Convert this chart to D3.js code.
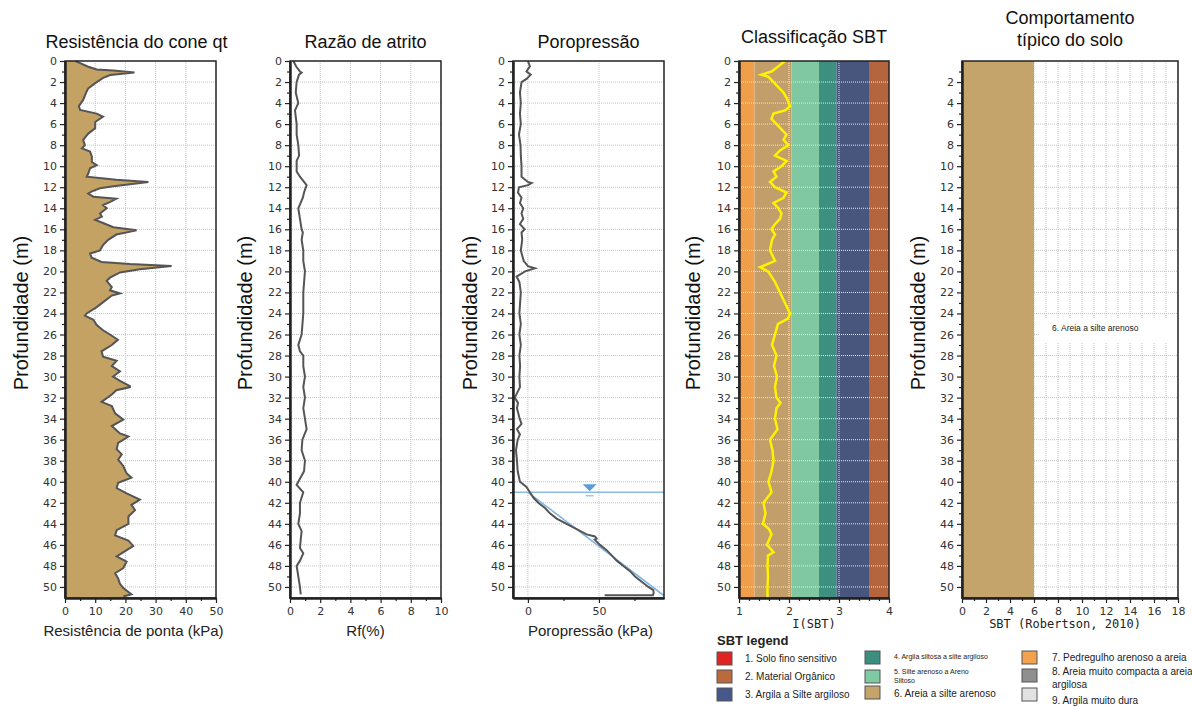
<!DOCTYPE html>
<html>
<head>
<meta charset="utf-8">
<script src="https://cdn.jsdelivr.net/npm/d3@7"></script>
<style>
body { margin: 0; background: #fff; }
text { font-family: "Liberation Sans", Arial, sans-serif; }
.tick text { font-family: "DejaVu Sans", Verdana, sans-serif; font-size: 11px; fill: #333; }
.grid { stroke: #c4c4c4; stroke-width: 1; stroke-dasharray: 1,1; }
</style>
</head>
<body>
<svg id="chart" width="1192" height="708"></svg>
<script>
// cone resistance qt
var qtDepth = [0,0.2,0.55,0.8,0.9,1.1,1.33,1.6,2.1,2.6,3.0,3.7,4.3,4.65,5.0,5.3,5.8,6.4,6.9,7.5,8.0,8.3,8.6,9.1,9.6,9.9,10.2,10.7,11.0,11.3,11.5,11.6,11.9,12.1,12.4,12.6,12.9,13.1,13.4,13.7,14.0,14.5,14.8,15.1,15.4,15.8,16.1,16.5,17.0,17.5,18.0,18.3,18.7,19.1,19.3,19.5,19.8,20.1,20.6,20.9,21.5,21.8,22.1,22.3,22.8,23.4,24.0,24.2,24.6,25.1,25.6,26.0,26.5,27.0,27.6,28.1,28.5,29.0,29.5,30.0,30.4,30.9,31.0,31.3,31.7,32.4,32.8,33.5,34.1,34.7,35.4,35.7,36.3,36.9,37.4,37.9,38.5,39.2,39.6,40.1,40.6,41.1,41.7,42.2,42.7,43.3,44.0,44.6,45.1,45.6,46.1,46.6,47.1,47.6,48.2,48.7,49.2,49.7,50.1,50.7,50.9];
var qtValue = [3.5,5,7.7,10.5,16,23,15,12.6,10,7.7,7,6,4.6,5,10.5,12.6,10,10,7.7,6,6.6,5.6,8.3,8.9,8.9,10.5,8.3,7.7,7.2,17,27.6,25,16,11.6,8.9,7.7,9.4,17,15,12.6,13.8,11.6,12.2,10,12.6,16,23.7,17,14.3,12.6,11.6,8.3,8.8,12.1,21.5,35.3,24.8,18.2,14.9,13.8,15.5,14.9,18.2,15.5,13.2,10.5,7.2,6.6,9.4,10.5,12.6,14.9,17.5,15.5,12.1,12.6,17.1,15.5,18.2,15.9,18.2,21.5,21.5,17,15.5,12.1,15.5,16.6,19.3,15.5,18.2,21,17.6,17.1,18.8,17.6,19.3,20.4,22,17.6,17.1,20.4,24.8,22,23.2,21,21,17.1,16.6,21,22.6,19.9,17.1,20.4,19.3,16.6,17.6,18.2,19.3,22,19.3];

// friction ratio Rf (%)
var rfDepth = [0,0.5,1,1.1,1.3,2,3,4,4.7,6,7,8,9,9.5,10.5,11,11.8,12.5,13,14,15,16,16.3,17,18,19,20,22,24,26,27,27.6,28,29,30,31,32,33,34,35,36,37,38,39,40,40.3,41,41.5,42,43,44,44.7,45.5,46.3,46.8,47.5,48,49,50,50.7];
var rfValue = [0.22,0.4,0.66,0.77,0.6,0.44,0.38,0.55,0.33,0.44,0.44,0.55,0.6,0.44,0.44,0.66,1.1,0.93,0.85,0.55,0.66,0.77,0.85,0.77,0.88,0.88,0.99,0.88,0.88,0.77,0.55,0.66,0.88,0.88,0.99,0.88,0.99,0.88,0.99,1.1,0.82,0.77,0.99,0.93,0.55,0.44,0.88,0.77,0.66,0.66,0.55,0.77,0.71,0.66,0.88,0.66,0.44,0.55,0.66,0.71];

// pore pressure u2 (kPa)
var uDepth = [0,0.5,1,1.3,1.7,2,3,4,5,6,7,8,9,10,11,11.5,11.6,11.8,12,12.5,13,13.5,14,14.5,15,15.5,16,16.3,17,18,19,19.5,19.7,20,20.5,21,22,23,24,25,26,27,28,29,30,31,32,32.5,33,34,34.5,35,35.5,36,37,38,39,40,40.5,41,41.5,42,42.5,43,43.5,44,44.5,45,45.2,45.4,45.5,46,46.5,47,47.5,48,48.5,49,49.5,50,50.3,50.6,50.8,50.8];
var uValue = [0,1.4,-1,2,-1,-4.5,-5.6,-5,-5.6,-5,-6.3,-5.2,-5,-4.5,-4.5,0,2.6,0,-6.3,-7,-4.5,-5.6,-3.3,-4.5,-3.3,-5.6,-2.3,-4.5,-4,-5,-3,0,5,-2,-8,-6,-5,-5.5,-6,-5,-6,-5,-6,-5.5,-6,-5.6,-9.2,-7,-7.7,-5.8,-4.5,-7.7,-5.6,-7.2,-8.4,-7.7,-7.2,-5.6,-1,1.4,3.8,7.3,12,15.5,20.2,27.2,34.3,41.3,47.2,48.4,47,50.7,55.4,59,62.5,67.2,71.9,75.4,80.1,84.8,88.3,88.5,88,54];
var waterDepth = 41;
var u0Depth = [41, 51.05];
var u0Value = [0, 98];

// soil behaviour type index Ic
var icDepth = [0,0.5,1,1.3,1.5,2,2.5,3,3.5,4,4.3,4.7,5,5.5,6,6.5,7,7.5,8,8.5,9,9.5,10,10.5,11,11.5,12,12.5,13,13.5,14,14.5,15,15.5,16,16.5,17,18,19,19.6,20,21,22,23,24,24.5,25,26,27,28,29,30,31,32,32.5,33,34,35,36,37,38,39,40,41,42,43,44,44.5,45,46,46.7,47,48,49,50,51];
var icValue = [1.92,1.79,1.65,1.45,1.59,1.69,1.79,1.89,1.95,2.0,2.02,1.92,1.69,1.65,1.75,1.85,1.95,1.89,1.99,1.82,1.72,1.95,1.85,1.69,1.75,1.62,1.72,1.95,1.89,1.69,1.79,1.85,1.82,1.72,1.65,1.72,1.66,1.62,1.72,1.42,1.58,1.72,1.82,1.92,2.02,1.98,1.78,1.72,1.66,1.75,1.7,1.76,1.72,1.75,1.83,1.75,1.72,1.77,1.62,1.67,1.69,1.65,1.59,1.65,1.49,1.53,1.48,1.6,1.65,1.56,1.69,1.58,1.57,1.58,1.57,1.57];
var icBounds = [1, 1.31, 2.05, 2.6, 2.95, 3.6, 4];
var icColors = ["#f19e4b", "#c29f6a", "#80c8a2", "#3d8f80", "#48557c", "#b4653d"];

// typical soil behaviour (Robertson 2010)
var zoneTop = [0];
var zoneBottom = [51.05];
var zoneSbt = [6];
var zoneLabel = ["6. Areia a silte arenoso"];

// SBT legend
var sbtNames = ["1. Solo fino sensitivo", "2. Material Orgânico", "3. Argila a Silte argiloso",
  "4. Argila siltosa a silte argiloso", "5. Silte arenoso a Areno|Siltoso", "6. Areia a silte arenoso",
  "7. Pedregulho arenoso a areia", "8. Areia muito compacta a areia|argilosa", "9. Argila muito dura"];
var sbtColors = ["#e02424", "#bb6a3e", "#46588a", "#3c8f7f", "#7fcaa3", "#c4a46a", "#f2a24c", "#8f8f8f", "#e2e2e2"];

var depthMax = 51.05;
var plotTop = 61, plotBottom = 598;

var svg = d3.select("#chart");

var y = d3.scaleLinear().domain([0, depthMax]).range([plotTop, plotBottom]);

function panel(cfg) {
	var x = d3.scaleLinear().domain(cfg.domain).range([cfg.left, cfg.right]);
	var g = svg.append("g");
	var under = g.append("g");
	var grid = g.append("g");
	var marks = g.append("g");
	var axes = g.append("g");

	// grid
	grid.selectAll(".v").data(cfg.vgrid).enter().append("line")
		.attr("class", "grid")
		.attr("x1", function(d) { return x(d); }).attr("x2", function(d) { return x(d); })
		.attr("y1", plotTop).attr("y2", plotBottom)
		.style("stroke", cfg.gridColor || null);
	grid.selectAll(".h").data(d3.range(2, 51, 2)).enter().append("line")
		.attr("class", "grid")
		.attr("x1", cfg.left).attr("x2", cfg.right)
		.attr("y1", function(d) { return y(d); }).attr("y2", function(d) { return y(d); })
		.style("stroke", cfg.gridColor || null);

	// axes
	axes.append("g").attr("transform", "translate(" + cfg.left + ",0)")
		.call(d3.axisLeft(y).tickValues(d3.range(cfg.yStart, 51, 2)).tickSize(5).tickSizeOuter(0).tickPadding(3));
	axes.append("g").attr("transform", "translate(" + cfg.left + ",0)")
		.call(d3.axisLeft(y).tickValues(d3.range(1, 51, 2)).tickSize(3).tickSizeOuter(0).tickFormat(""));
	axes.append("g").attr("transform", "translate(0," + plotBottom + ")")
		.call(d3.axisBottom(x).tickValues(cfg.xticks).tickFormat(d3.format("d")).tickSize(5).tickSizeOuter(0).tickPadding(4));
	axes.append("g").attr("transform", "translate(0," + plotBottom + ")")
		.call(d3.axisBottom(x).tickValues(cfg.xminor).tickSize(3).tickSizeOuter(0).tickFormat(""));
	axes.selectAll(".domain").style("stroke", "#222").style("stroke-width", 2);
	axes.selectAll(".tick line").style("stroke", "#222").style("stroke-width", 1.2);

	axes.append("rect")
		.attr("x", cfg.left).attr("y", plotTop)
		.attr("width", cfg.right - cfg.left).attr("height", plotBottom - plotTop)
		.style("fill", "none").style("stroke", "#222").style("stroke-width", 1.5);

	// titles
	cfg.title.forEach(function(t, i) {
		g.append("text")
			.attr("x", (cfg.left + cfg.right) / 2 + (cfg.titleDx || 0))
			.attr("y", cfg.titleY + i * 22)
			.attr("text-anchor", "middle")
			.style("font-size", "18px").style("fill", "#111")
			.text(t);
	});
	g.append("text")
		.attr("transform", "translate(" + cfg.ylabX + ",313) rotate(-90)")
		.attr("text-anchor", "middle")
		.attr("dy", ".35em")
		.style("font-size", "20px").style("fill", "#111")
		.text("Profundidade (m)");
	g.append("text")
		.attr("x", (cfg.left + cfg.right) / 2 + (cfg.xlabDx || 0))
		.attr("y", cfg.xlabY)
		.attr("text-anchor", "middle")
		.style("font-size", cfg.mono ? "12px" : "15px")
		.style("font-family", cfg.mono ? "'DejaVu Sans Mono', monospace" : null)
		.style("fill", "#222")
		.text(cfg.xlabel);

	return { x: x, under: under, marks: marks };
}

function pairs(depth, value) {
	return depth.map(function(d, i) { return [value[i], d]; });
}

// 1. cone resistance
var p1 = panel({ left: 65, right: 216, domain: [0, 50], vgrid: [10, 20, 30, 40],
	xticks: [0, 10, 20, 30, 40, 50], xminor: [5, 15, 25, 35, 45], yStart: 0,
	title: ["Resistência do cone qt"], titleY: 48, titleDx: -4, ylabX: 21,
	xlabel: "Resistência de ponta (kPa)", xlabY: 636, xlabDx: -7 });
var qtPts = pairs(qtDepth, qtValue);
p1.marks.append("path")
	.datum([[0, 0]].concat(qtPts).concat([[qtValue[qtValue.length - 1], depthMax - 0.1], [0, depthMax - 0.1]]))
	.attr("d", d3.line().x(function(d) { return p1.x(d[0]); }).y(function(d) { return y(d[1]); }))
	.style("fill", "#c4a263").style("stroke", "none");
p1.marks.append("path")
	.datum(qtPts)
	.attr("d", d3.line().x(function(d) { return p1.x(d[0]); }).y(function(d) { return y(d[1]); }))
	.style("fill", "none").style("stroke", "#555").style("stroke-width", 2);

// 2. friction ratio
var p2 = panel({ left: 290, right: 441, domain: [0, 10], vgrid: [2, 4, 6, 8],
	xticks: [0, 2, 4, 6, 8, 10], xminor: [1, 3, 5, 7, 9], yStart: 0,
	title: ["Razão de atrito"], titleY: 48, ylabX: 245,
	xlabel: "Rf(%)", xlabY: 636 });
p2.marks.append("path")
	.datum(pairs(rfDepth, rfValue))
	.attr("d", d3.line().x(function(d) { return p2.x(d[0]); }).y(function(d) { return y(d[1]); }))
	.style("fill", "none").style("stroke", "#555").style("stroke-width", 2);

// 3. pore pressure
var p3 = panel({ left: 513, right: 664, domain: [-10.5, 95.8], vgrid: [0, 50],
	xticks: [0, 50], xminor: [25, 75], yStart: 0,
	title: ["Poropressão"], titleY: 48, ylabX: 470,
	xlabel: "Poropressão (kPa)", xlabY: 636, xlabDx: 2 });
svg.append("clipPath").attr("id", "clip3").append("rect")
	.attr("x", 513).attr("y", plotTop).attr("width", 151).attr("height", plotBottom - plotTop);
p3.marks.append("path")
	.datum(pairs(u0Depth, u0Value))
	.attr("clip-path", "url(#clip3)")
	.attr("d", d3.line().x(function(d) { return p3.x(d[0]); }).y(function(d) { return y(d[1]); }))
	.style("fill", "none").style("stroke", "#86b6e4").style("stroke-width", 1.6);
p3.marks.append("line")
	.attr("x1", 513).attr("x2", 664)
	.attr("y1", y(waterDepth)).attr("y2", y(waterDepth))
	.style("stroke", "#8cbbe6").style("stroke-width", 1.5);
var wx = p3.x(43.5), wy = y(waterDepth);
p3.marks.append("path")
	.attr("d", "M" + (wx - 7) + "," + (wy - 8) + "L" + (wx + 7) + "," + (wy - 8) + "L" + wx + "," + (wy - 1) + "Z")
	.style("fill", "#5d9cd8");
p3.marks.append("line")
	.attr("x1", wx - 4).attr("x2", wx + 4).attr("y1", wy + 3.5).attr("y2", wy + 3.5)
	.style("stroke", "#8cbbe6").style("stroke-width", 1.2);
p3.marks.append("path")
	.datum(pairs(uDepth, uValue))
	.attr("d", d3.line().x(function(d) { return p3.x(d[0]); }).y(function(d) { return y(d[1]); }))
	.style("fill", "none").style("stroke", "#555").style("stroke-width", 2);

// 4. SBT classification
var p4 = panel({ left: 739, right: 889, domain: [1, 4], vgrid: [2, 3], gridColor: "#e8e8e8",
	xticks: [1, 2, 3, 4], xminor: d3.range(1, 4.01, 0.2).filter(function(v) { return Math.abs(v - Math.round(v)) > 0.01; }),
	yStart: 0, title: ["Classificação SBT"], titleY: 43, ylabX: 693,
	xlabel: "I(SBT)", xlabY: 628, mono: true });
p4.under.selectAll("rect").data(icColors).enter().append("rect")
	.attr("x", function(d, i) { return p4.x(icBounds[i]); })
	.attr("width", function(d, i) { return p4.x(icBounds[i + 1]) - p4.x(icBounds[i]); })
	.attr("y", plotTop).attr("height", plotBottom - plotTop)
	.style("fill", function(d) { return d; });
p4.marks.append("path")
	.datum(pairs(icDepth, icValue))
	.attr("d", d3.line().x(function(d) { return p4.x(d[0]); }).y(function(d) { return y(d[1]); }))
	.style("fill", "none").style("stroke", "#fff200").style("stroke-width", 2.5);

// 5. typical soil behaviour
var p5 = panel({ left: 962, right: 1178, domain: [0, 18], vgrid: d3.range(1, 18),
	xticks: d3.range(0, 19, 2), xminor: d3.range(1, 18, 2), yStart: 2,
	title: ["Comportamento", "típico do solo"], titleY: 24, ylabX: 918,
	xlabel: "SBT (Robertson, 2010)", xlabY: 628, mono: true, xlabDx: -5 });
p5.marks.selectAll("rect.zone").data(zoneSbt).enter().append("rect")
	.attr("class", "zone")
	.attr("x", p5.x(0))
	.attr("width", function(d) { return p5.x(d) - p5.x(0); })
	.attr("y", function(d, i) { return y(zoneTop[i]); })
	.attr("height", function(d, i) { return y(zoneBottom[i]) - y(zoneTop[i]); })
	.style("fill", function(d) { return sbtColors[d - 1]; });
p5.marks.append("rect")
	.attr("x", 1040).attr("y", 318).attr("width", 137).attr("height", 24)
	.style("fill", "#fff");
p5.marks.append("text")
	.attr("x", 1052).attr("y", 331)
	.style("font-size", "8.5px").style("fill", "#222")
	.text(zoneLabel[0]);

// legend
var legend = svg.append("g");
legend.append("text").attr("x", 717).attr("y", 645)
	.style("font-size", "13px").style("font-weight", "bold").style("fill", "#222")
	.text("SBT legend");
var colX = [717, 865, 1022];
var textX = [745, 894, 1052];
var boxY = [[652, 670, 688], [651, 670, 686], [651, 669, 688]];
var textY = [[662, 680, 698], [659, 674, 697], [661, 675, 704]];
legend.selectAll(".box").data(sbtNames).enter().append("rect")
	.attr("x", function(d, i) { return colX[Math.floor(i / 3)]; })
	.attr("y", function(d, i) { return boxY[Math.floor(i / 3)][i % 3]; })
	.attr("width", 15).attr("height", 13)
	.style("fill", function(d, i) { return sbtColors[i]; })
	.style("stroke", "#555").style("stroke-width", 1);
legend.selectAll(".lbl").data(sbtNames).enter().append("text")
	.attr("x", function(d, i) { return textX[Math.floor(i / 3)]; })
	.attr("y", function(d, i) { return textY[Math.floor(i / 3)][i % 3]; })
	.style("font-size", function(d, i) { return (i === 3 || i === 4) ? "7px" : "10px"; })
	.style("fill", "#222")
	.each(function(d, i) {
		var t = d3.select(this);
		var small = (i === 3 || i === 4);
		d.split("|").forEach(function(l, k) {
			t.append("tspan").attr("x", textX[Math.floor(i / 3)])
				.attr("dy", k === 0 ? 0 : (small ? 9 : 13)).text(l);
		});
	});
</script>
</body>
</html>
